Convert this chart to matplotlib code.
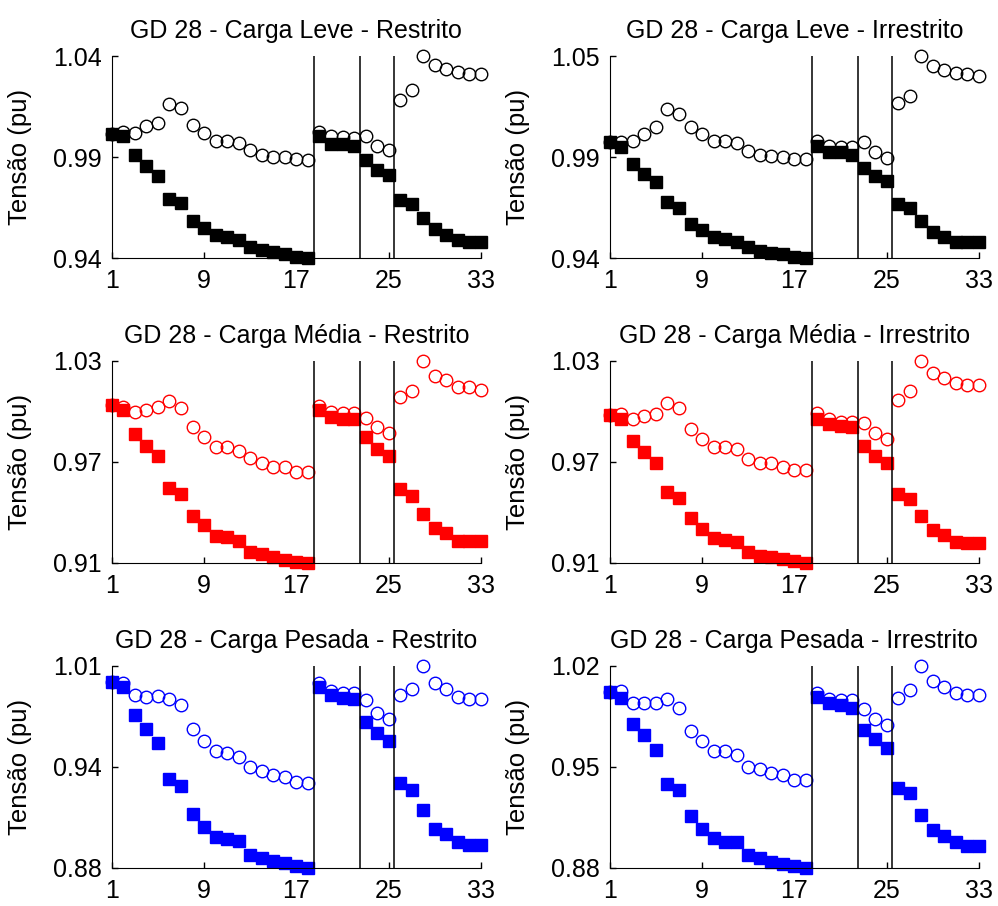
import numpy as np
import matplotlib
matplotlib.use('Agg')
import matplotlib.pyplot as plt

plt.rcParams['font.family'] = ['Liberation Sans', 'DejaVu Sans']

buses = list(range(1, 34))
xticks = [1, 9, 17, 25, 33]
branch_limits = [18.5, 22.5, 25.5]

titles = ['GD 28 - Carga Leve - Restrito', 'GD 28 - Carga Leve - Irrestrito',
          'GD 28 - Carga Média - Restrito', 'GD 28 - Carga Média - Irrestrito',
          'GD 28 - Carga Pesada - Restrito', 'GD 28 - Carga Pesada - Irrestrito']
colors = ['k', 'k', 'r', 'r', 'b', 'b']

# sem GD (quadrados cheios)
leve_restr_sem = [1.0000, 0.9989, 0.9899, 0.9846, 0.9802, 0.9693, 0.9672, 0.9585, 0.9553,
                  0.9521, 0.9513, 0.9497, 0.9462, 0.9447, 0.9439, 0.9431, 0.9418, 0.9410,
                  0.9989, 0.9954, 0.9953, 0.9942, 0.9875, 0.9831, 0.9807, 0.9688, 0.9669,
                  0.9600, 0.9548, 0.9521, 0.9497, 0.9486, 0.9486]
leve_irr_sem = [1.0000, 0.9976, 0.9881, 0.9831, 0.9787, 0.9681, 0.9651, 0.9562, 0.9530,
                0.9495, 0.9481, 0.9469, 0.9438, 0.9421, 0.9407, 0.9403, 0.9389, 0.9380,
                0.9982, 0.9946, 0.9946, 0.9934, 0.9863, 0.9817, 0.9792, 0.9669, 0.9651,
                0.9580, 0.9522, 0.9495, 0.9469, 0.9469, 0.9469]
media_restr_sem = [1.0000, 0.9976, 0.9834, 0.9765, 0.9708, 0.9522, 0.9489, 0.9362, 0.9305,
                   0.9247, 0.9240, 0.9215, 0.9151, 0.9138, 0.9125, 0.9105, 0.9094, 0.9090,
                   0.9972, 0.9934, 0.9924, 0.9924, 0.9815, 0.9746, 0.9708, 0.9516, 0.9477,
                   0.9374, 0.9291, 0.9259, 0.9215, 0.9215, 0.9215]
media_irr_sem = [1.0000, 0.9979, 0.9842, 0.9775, 0.9707, 0.9523, 0.9489, 0.9366, 0.9299,
                 0.9243, 0.9229, 0.9217, 0.9155, 0.9131, 0.9127, 0.9110, 0.9100, 0.9090,
                 0.9979, 0.9944, 0.9932, 0.9928, 0.9810, 0.9748, 0.9707, 0.9515, 0.9482,
                 0.9380, 0.9294, 0.9258, 0.9217, 0.9209, 0.9209]
pesada_restr_sem = [1.0000, 0.9969, 0.9783, 0.9691, 0.9600, 0.9366, 0.9326, 0.9144, 0.9057,
                    0.8992, 0.8979, 0.8964, 0.8877, 0.8855, 0.8833, 0.8823, 0.8801, 0.8790,
                    0.9969, 0.9913, 0.9898, 0.9891, 0.9739, 0.9665, 0.9615, 0.9340, 0.9296,
                    0.9170, 0.9044, 0.9014, 0.8957, 0.8942, 0.8942]
pesada_irr_sem = [1.0000, 0.9961, 0.9777, 0.9702, 0.9600, 0.9364, 0.9325, 0.9150, 0.9059,
                  0.8997, 0.8967, 0.8967, 0.8882, 0.8859, 0.8829, 0.8820, 0.8801, 0.8790,
                  0.9968, 0.9922, 0.9908, 0.9892, 0.9738, 0.9674, 0.9617, 0.9341, 0.9302,
                  0.9157, 0.9049, 0.9008, 0.8967, 0.8939, 0.8939]

# com GD na barra 28 (circulos)
leve_restr_com = [1.0000, 1.0008, 1.0005, 1.0037, 1.0053, 1.0143, 1.0124, 1.0045, 1.0005,
                  0.9966, 0.9966, 0.9958, 0.9926, 0.9902, 0.9891, 0.9891, 0.9881, 0.9878,
                  1.0008, 0.9989, 0.9985, 0.9981, 0.9992, 0.9942, 0.9923, 1.0164, 1.0208,
                  1.0370, 1.0326, 1.0307, 1.0294, 1.0283, 1.0283]
leve_irr_com = [1.0000, 1.0000, 1.0005, 1.0044, 1.0079, 1.0177, 1.0153, 1.0079, 1.0044,
                1.0008, 1.0005, 0.9994, 0.9952, 0.9934, 0.9929, 0.9923, 0.9911, 0.9911,
                1.0005, 0.9982, 0.9976, 0.9973, 1.0000, 0.9946, 0.9916, 1.0212, 1.0247,
                1.0460, 1.0407, 1.0384, 1.0371, 1.0366, 1.0354]
media_restr_com = [1.0000, 0.9992, 0.9963, 0.9976, 0.9992, 1.0026, 0.9988, 0.9873, 0.9819,
                   0.9761, 0.9761, 0.9738, 0.9694, 0.9665, 0.9642, 0.9646, 0.9617, 0.9617,
                   0.9995, 0.9963, 0.9957, 0.9957, 0.9930, 0.9873, 0.9838, 1.0049, 1.0084,
                   1.0260, 1.0168, 1.0145, 1.0107, 1.0107, 1.0091]
media_irr_com = [1.0000, 1.0010, 0.9979, 0.9993, 1.0006, 1.0075, 1.0047, 0.9912, 0.9850,
                 0.9801, 0.9805, 0.9789, 0.9728, 0.9703, 0.9703, 0.9679, 0.9662, 0.9662,
                 1.0014, 0.9979, 0.9959, 0.9959, 0.9953, 0.9887, 0.9850, 1.0096, 1.0149,
                 1.0337, 1.0259, 1.0231, 1.0198, 1.0184, 1.0184]
pesada_restr_com = [1.0000, 0.9991, 0.9913, 0.9904, 0.9909, 0.9891, 0.9848, 0.9696, 0.9615,
                    0.9550, 0.9539, 0.9513, 0.9448, 0.9420, 0.9392, 0.9383, 0.9348, 0.9344,
                    0.9996, 0.9941, 0.9930, 0.9930, 0.9883, 0.9800, 0.9761, 0.9913, 0.9956,
                    1.0104, 0.9991, 0.9956, 0.9904, 0.9887, 0.9891]
pesada_irr_com = [1.0000, 1.0007, 0.9922, 0.9922, 0.9922, 0.9954, 0.9892, 0.9731, 0.9663,
                  0.9594, 0.9594, 0.9564, 0.9486, 0.9467, 0.9444, 0.9426, 0.9398, 0.9398,
                  0.9991, 0.9954, 0.9945, 0.9945, 0.9885, 0.9816, 0.9770, 0.9961, 1.0014,
                  1.0179, 1.0076, 1.0037, 0.9991, 0.9977, 0.9977]

sem_gd = [leve_restr_sem, leve_irr_sem, media_restr_sem, media_irr_sem,
          pesada_restr_sem, pesada_irr_sem]
com_gd = [leve_restr_com, leve_irr_com, media_restr_com, media_irr_com,
          pesada_restr_com, pesada_irr_com]

fig = plt.figure(figsize=(9.98, 9.06), dpi=100)

lefts = [0.112, 0.611]
bottoms = [0.715, 0.379, 0.042]
w, h = 0.370, 0.223

for k in range(6):
    row, col = divmod(k, 2)
    ax = fig.add_axes([lefts[col], bottoms[row], w, h])
    c = colors[k]
    ax.plot(buses, sem_gd[k], 's', color=c, mfc=c, mec=c, ms=8.6, clip_on=False)
    ax.plot(buses, com_gd[k], 'o', color=c, mfc='none', mec=c, ms=9, mew=1.0,
            clip_on=False)

    lo = min(min(sem_gd[k]), min(com_gd[k]))
    hi = max(max(sem_gd[k]), max(com_gd[k]))
    ax.set_ylim(lo, hi)
    ax.set_xlim(1, 33)
    for xb in branch_limits:
        ax.axvline(xb, color='k', lw=1.1)

    yt = np.linspace(lo, hi, 3)
    ax.set_yticks(yt)
    ax.set_yticklabels(['%.2f' % v for v in yt])
    ax.set_xticks(xticks)
    ax.set_xticklabels([str(v) for v in xticks])

    ax.spines['top'].set_visible(False)
    ax.spines['right'].set_visible(False)
    ax.tick_params(direction='in', length=4, width=1, labelsize=18, pad=7)
    ax.tick_params(axis='x', pad=8)

    ax.set_title(titles[k], fontsize=18, pad=13)
    ax.set_ylabel('Tensão (pu)', fontsize=18.5)
    ax.yaxis.set_label_coords(-0.215, 0.5)

plt.savefig('out.png', dpi=100)
